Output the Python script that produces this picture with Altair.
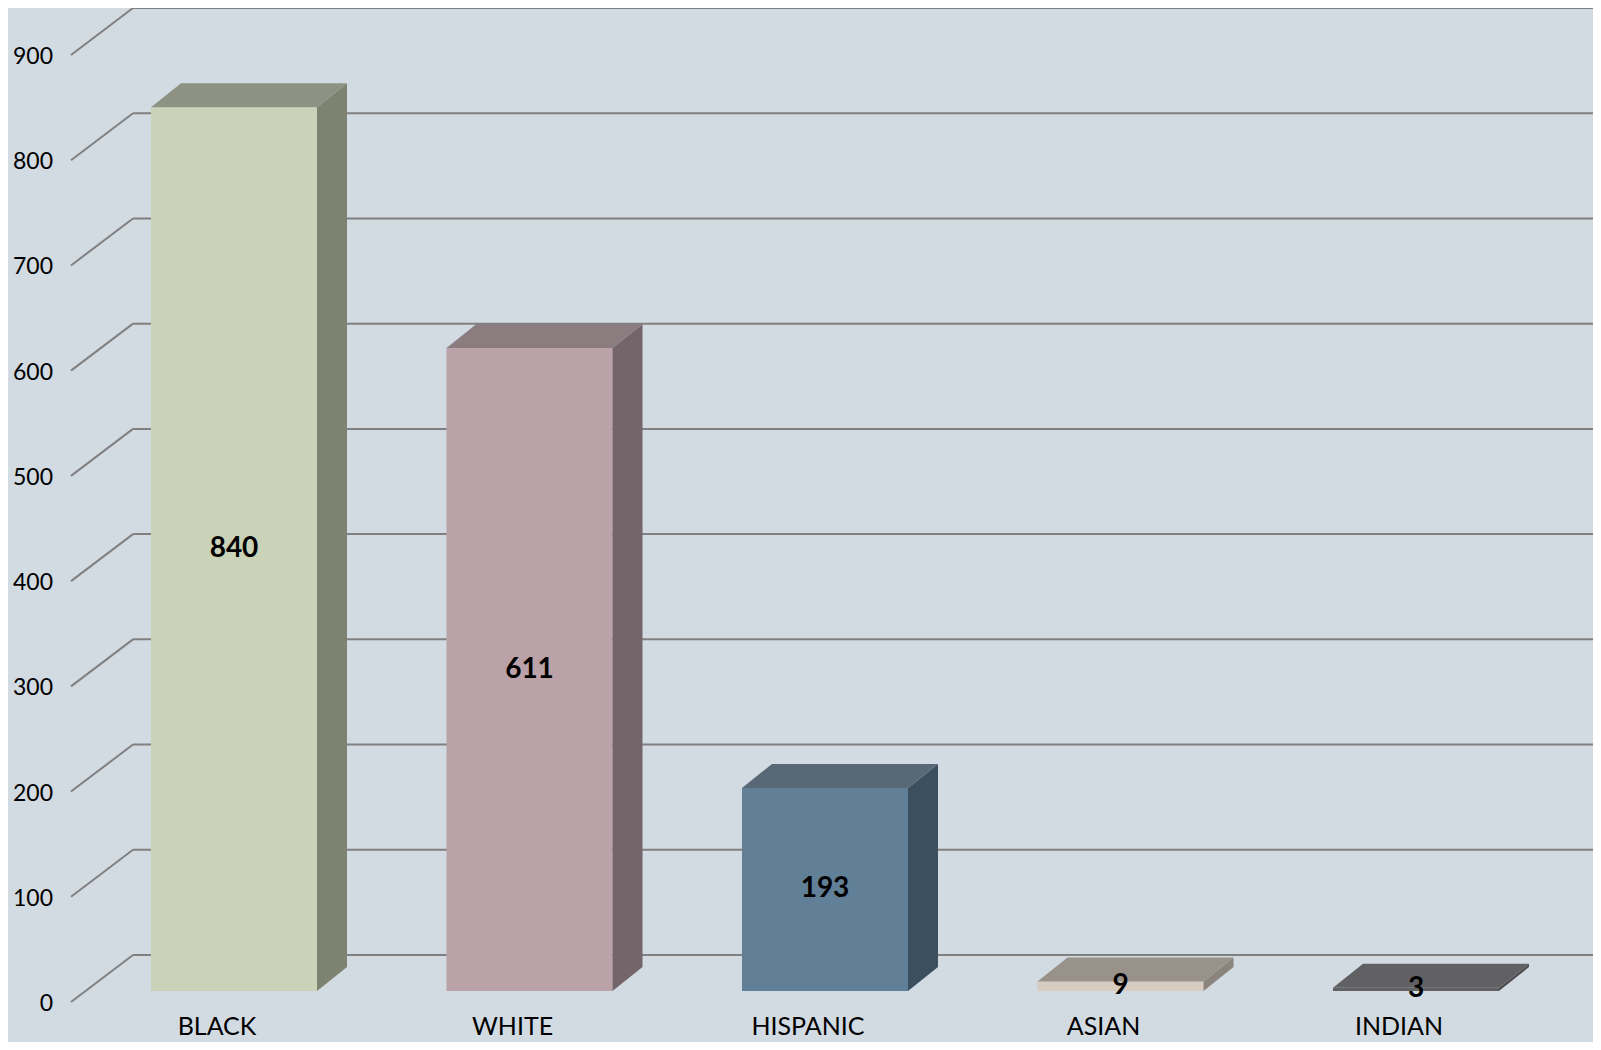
import altair as alt
import pandas as pd

# ---------------- data ----------------
CATEGORIES = ["BLACK", "WHITE", "HISPANIC", "ASIAN", "INDIAN"]
VALUES = [840, 611, 193, 9, 3]
Y_TICKS = [0, 100, 200, 300, 400, 500, 600, 700, 800, 900]

# ---------------- styles ----------------
FRONT_COLORS = ["#CAD3B8", "#BBA2A8", "#617F96", "#D8CCC0", "#626262"]
SIDE_COLORS = ["#7E8270", "#736569", "#3C4F5E", "#8A847C", "#4E4E50"]
TOP_COLORS = ["#8E9282", "#8A7C7F", "#586877", "#99928A", "#616163"]
BG = "#D2DAE2"
GRID = "#808080"
FONT = "Lato"

# ---------------- layout (pixels) ----------------
W, H = 1585, 1034
STEP = 295.5          # distance between category centres
X_FIRST = 226         # centre of first bar front face
BAR_W = 166
DEPTH_X, DEPTH_Y = 30, 24     # bar depth projection
Y_BASE = 983          # pixel of value 0 on bar front faces
PX_PER_UNIT = 947 / 900
GRID_BACK_UP = 36     # back wall is 36px above bar front level
GRID_FRONT_DOWN = 11  # front floor edge is 11px below bar front level
GRID_LEFT_X, GRID_BACK_X = 63, 125

HW = BAR_W / 2 / STEP
DX = DEPTH_X / STEP
DY = DEPTH_Y / PX_PER_UNIT

x_scale = alt.Scale(domain=[0, 4], range=[X_FIRST, X_FIRST + 4 * STEP], padding=0, nice=False, zero=False)
y_scale = alt.Scale(domain=[0, 900], range=[Y_BASE, Y_BASE - 900 * PX_PER_UNIT], padding=0, nice=False)

bars = pd.DataFrame({"cat": CATEGORIES, "value": VALUES, "pos": list(range(len(CATEGORIES)))})
ticks = pd.DataFrame({"tick": Y_TICKS, "label": [str(t) for t in Y_TICKS]})

side_rows, top_rows = [], []
for i, (c, v) in enumerate(zip(CATEGORIES, VALUES)):
    side_rows.append({"cat": c, "x": i + HW, "top": v, "bottom": 0})
    side_rows.append({"cat": c, "x": i + HW + DX, "top": v + DY, "bottom": DY})
    top_rows.append({"cat": c, "y": v, "xa": i - HW, "xb": i + HW})
    top_rows.append({"cat": c, "y": v + DY, "xa": i - HW + DX, "xb": i + HW + DX})
side = pd.DataFrame(side_rows)
top = pd.DataFrame(top_rows)

def cscale(colors):
    return alt.Scale(domain=CATEGORIES, range=colors)

grid_back = alt.Chart(ticks).mark_rule(color=GRID, strokeWidth=2, yOffset=-GRID_BACK_UP).encode(
    y=alt.Y("tick:Q", scale=y_scale, axis=None),
    x=alt.value(GRID_BACK_X),
    x2=alt.value(W),
)
grid_diag = alt.Chart(ticks).mark_rule(
    color=GRID, strokeWidth=2, yOffset=GRID_FRONT_DOWN, y2Offset=-GRID_BACK_UP
).encode(
    y=alt.Y("tick:Q", scale=y_scale, axis=None),
    y2="tick:Q",
    x=alt.value(GRID_LEFT_X),
    x2=alt.value(GRID_BACK_X),
)
tick_labels = alt.Chart(ticks).mark_text(
    align="right", baseline="middle", font=FONT, fontSize=23, color="#000000", yOffset=GRID_FRONT_DOWN + 2
).encode(
    y=alt.Y("tick:Q", scale=y_scale, axis=None),
    x=alt.value(45),
    text="label:N",
)

front = alt.Chart(bars).mark_bar(width=BAR_W).encode(
    x=alt.X("pos:Q", scale=x_scale, axis=None),
    y=alt.Y("value:Q", scale=y_scale, axis=None),
    y2=alt.datum(0),
    color=alt.Color("cat:N", scale=cscale(FRONT_COLORS), legend=None),
)
side_face = alt.Chart(side).mark_area().encode(
    x=alt.X("x:Q", scale=x_scale, axis=None),
    y=alt.Y("top:Q", scale=y_scale, axis=None),
    y2="bottom:Q",
    detail="cat:N",
    color=alt.Color("cat:N", scale=cscale(SIDE_COLORS), legend=None),
)
top_face = alt.Chart(top).mark_area(orient="horizontal").encode(
    y=alt.Y("y:Q", scale=y_scale, axis=None),
    x=alt.X("xa:Q", scale=x_scale, axis=None),
    x2="xb:Q",
    detail="cat:N",
    color=alt.Color("cat:N", scale=cscale(TOP_COLORS), legend=None),
)

value_labels = alt.Chart(bars).transform_calculate(mid="datum.value / 2").mark_text(
    font=FONT, fontSize=28, fontWeight="bold", color="#000000", baseline="middle", align="center"
).encode(
    x=alt.X("pos:Q", scale=x_scale, axis=None),
    y=alt.Y("mid:Q", scale=y_scale, axis=None),
    text="value:Q",
)
cat_labels = alt.Chart(bars).mark_text(
    font=FONT, fontSize=25, color="#000000", baseline="middle", align="center", xOffset=-17
).encode(
    x=alt.X("pos:Q", scale=x_scale, axis=None),
    y=alt.value(1019),
    text="cat:N",
)

chart = alt.layer(
    grid_back, grid_diag, tick_labels, front, side_face, top_face, value_labels, cat_labels
).resolve_scale(color="independent").properties(
    width=W, height=H, autosize=alt.AutoSizeParams(type="none"), padding=0, background=BG
).configure_view(stroke=None)

chart.save("out.html", embed_options={"renderer": "svg", "actions": False})
